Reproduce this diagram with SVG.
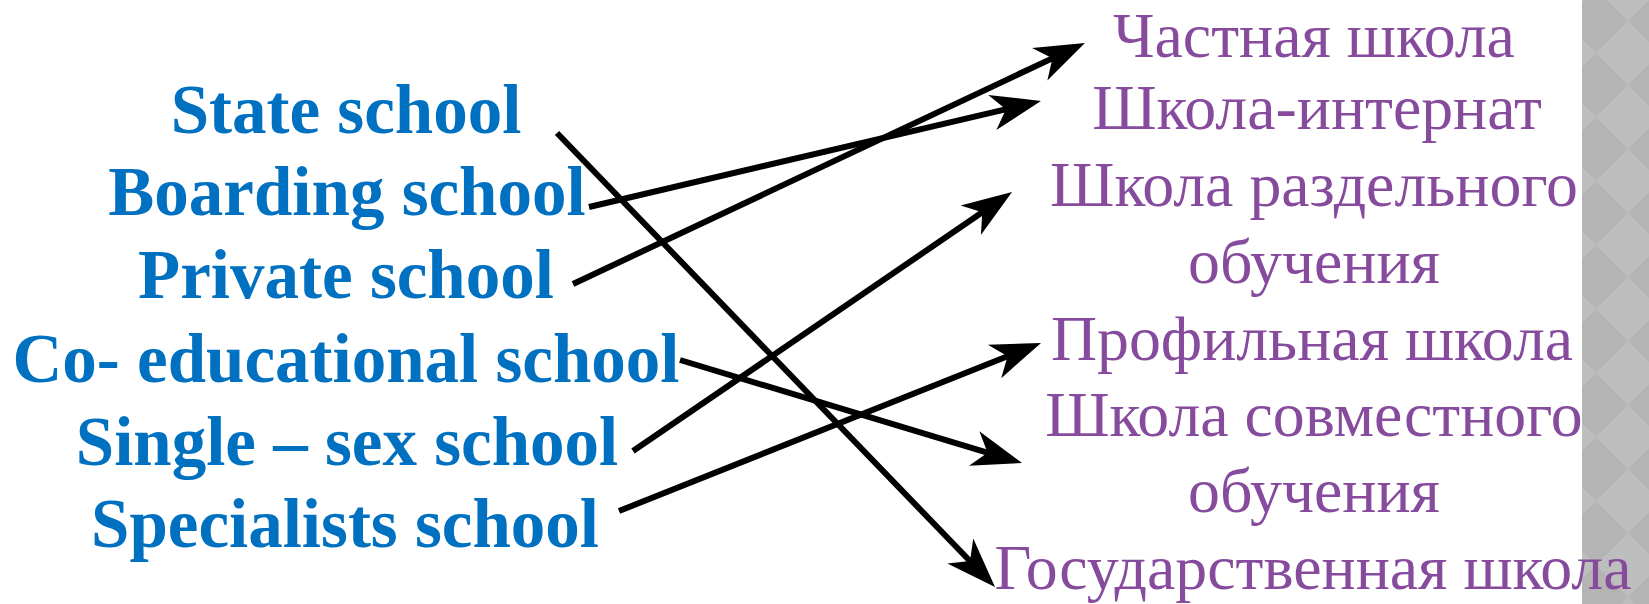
<svg xmlns="http://www.w3.org/2000/svg" width="1649" height="604" viewBox="0 0 1649 604">
<style>
.en{font-family:"Liberation Serif","Times New Roman",serif;font-weight:700;font-size:69px;fill:#0070C0;text-anchor:middle}
.ru{font-family:"Liberation Serif","Times New Roman",serif;font-weight:400;font-size:63.8px;fill:#874B9E;text-anchor:middle}
.con{stroke:#000;stroke-width:6;fill:none;marker-end:url(#ah)}
</style>
<defs>
<marker id="ah" markerUnits="userSpaceOnUse" viewBox="0 -20 52 40" refX="18" refY="0" markerWidth="52" markerHeight="40" orient="auto">
<path d="M0,-18 L50,0 L0,18 L14,0 Z" fill="#000"/>
</marker>
<pattern id="diam" patternUnits="userSpaceOnUse" x="1596" y="21" width="64" height="64">
<rect width="64" height="64" fill="#B4B4B4"/>
<polygon points="32,0 64,32 32,64 0,32" fill="#BEBEBE"/>
</pattern>
</defs>
<rect width="1649" height="604" fill="#FFFFFF"/>
<rect x="1582" y="0" width="67" height="604" fill="url(#diam)"/>
<g id="connectors">
<line class="con" x1="557" y1="133" x2="972.8" y2="564"/>
<line class="con" x1="589" y1="207" x2="1009.8" y2="108.3"/>
<line class="con" x1="573" y1="284" x2="1056" y2="56.6"/>
<line class="con" x1="680" y1="360" x2="991.4" y2="453.8"/>
<line class="con" x1="633" y1="451" x2="985.6" y2="210.1"/>
<line class="con" x1="619" y1="511" x2="1011.3" y2="354.8"/>
</g>
<g id="state-school"><text class="en" x="346" y="133">State school</text></g>
<g id="boarding-school"><text class="en" x="347" y="215">Boarding school</text></g>
<g id="private-school"><text class="en" x="346" y="298">Private school</text></g>
<g id="co-educational-school"><text class="en" x="346" y="382">Co- educational school</text></g>
<g id="single-sex-school"><text class="en" x="347" y="465">Single – sex school</text></g>
<g id="specialists-school"><text class="en" x="345" y="547">Specialists school</text></g>
<g id="chastnaya"><text class="ru" x="1314" y="57">Частная школа</text></g>
<g id="internat"><text class="ru" x="1317" y="129">Школа-интернат</text></g>
<g id="razdelnogo"><text class="ru" x="1314" y="206">Школа раздельного</text><text class="ru" x="1314" y="283">обучения</text></g>
<g id="profilnaya"><text class="ru" x="1312" y="360">Профильная школа</text></g>
<g id="sovmestnogo"><text class="ru" x="1314" y="436">Школа совместного</text><text class="ru" x="1314" y="512">обучения</text></g>
<g id="gosudarstvennaya"><text class="ru" x="1313" y="589">Государственная школа</text></g>
</svg>
